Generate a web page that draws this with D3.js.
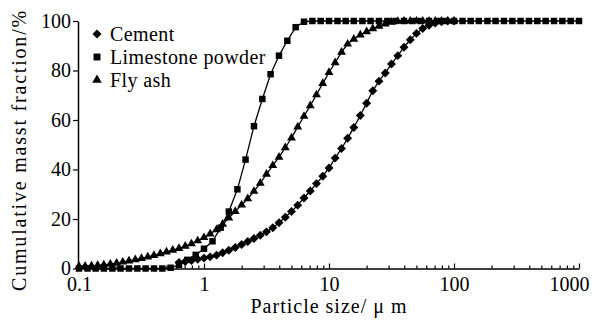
<!DOCTYPE html>
<html>
<head>
<meta charset="utf-8">
<script src="https://cdn.jsdelivr.net/npm/d3@7"></script>
<style>
    body { margin: 0; background: #fff; }
    svg { display: block; }
    text { font-family: "Liberation Serif", "Times New Roman", serif; fill: #000; }
</style>
</head>
<body>
<svg id="chart"></svg>
<script>
// ticks and names
const xTicks = [0.1, 1, 10, 100, 1000];
const xTickLabels = ['0.1', '1', '10', '100', '1000'];
const yTicks = [0, 20, 40, 60, 80, 100];
const seriesNames = ['Cement', 'Limestone powder', 'Fly ash'];

// cement, particle size (um) / cumulative mass fraction (%)
const cementSize = [
    0.631, 0.708, 0.794, 0.891,
    1, 1.12, 1.26, 1.41, 1.58, 1.78, 2, 2.24, 2.51, 2.82, 3.16, 3.55, 3.98, 4.47, 5.01, 5.62, 6.31, 7.08, 7.94, 8.91,
    10, 11.2, 12.6, 14.1, 15.8, 17.8, 20, 22.4, 25.1, 28.2, 31.6, 35.5, 39.8, 44.7, 50.1, 56.2, 63.1, 70.8, 79.4, 89.1,
    100
];
const cementPass = [
    2.4, 2.8, 3.2, 3.7,
    4.2, 4.7, 5.4, 6.4, 7.4, 8.5, 9.7, 10.9, 12.1, 13.4, 14.8, 16.5, 18.5, 20.7, 23.0, 25.6, 28.5, 31.3, 34.3, 37.3,
    40.6, 44.6, 48.5, 52.6, 57.0, 61.8, 66.8, 71.8, 75.7, 79.0, 82.6, 86.0, 89.4, 92.4, 95.0, 97.0, 98.3, 99.2, 99.7, 100,
    100
];

// fly ash
const flySize = [
    0.1, 0.112, 0.126, 0.141, 0.158, 0.178, 0.2, 0.224, 0.251, 0.282, 0.316, 0.355, 0.398, 0.447, 0.501, 0.562, 0.631, 0.708, 0.794, 0.891,
    1, 1.12, 1.26, 1.41, 1.58, 1.78, 2, 2.24, 2.51, 2.82, 3.16, 3.55, 3.98, 4.47, 5.01, 5.62, 6.31, 7.08, 7.94, 8.91,
    10, 11.2, 12.6, 14.1, 15.8, 17.8, 20, 22.4, 25.1, 28.2, 31.6, 35.5, 39.8, 44.7, 50.1, 56.2, 63.1, 70.8, 79.4, 89.1,
    100
];
const flyPass = [
    0.9, 1.0, 1.1, 1.3, 1.5, 1.8, 2.2, 2.6, 3.1, 3.6, 4.1, 4.7, 5.3, 6.0, 6.7, 7.4, 8.1, 9.0, 10.0, 11.2,
    12.5, 14.0, 15.7, 17.9, 20.4, 23.1, 25.7, 28.2, 31.2, 34.5, 38.1, 41.6, 45.0, 48.8, 52.8, 57.2, 61.5, 65.8, 70.2, 74.8,
    79.2, 83.2, 87.4, 90.7, 92.7, 94.4, 95.7, 96.9, 97.9, 98.8, 99.5, 99.9, 100, 100, 100, 100, 100, 100, 100, 100,
    100
];

// limestone powder
const limeSize = [
    0.1, 0.117, 0.136, 0.158, 0.185, 0.215, 0.251, 0.293, 0.341, 0.398, 0.464, 0.541, 0.631, 0.736, 0.858,
    1, 1.17, 1.36, 1.58, 1.85, 2.15, 2.51, 2.93, 3.41, 3.98, 4.64, 5.41, 6.31, 7.36, 8.58,
    10, 11.7, 13.6, 15.8, 18.5, 21.5, 25.1, 29.3, 34.1, 39.8, 46.4, 54.1, 63.1, 73.6, 85.8,
    100, 117, 136, 158, 185, 215, 251, 293, 341, 398, 464, 541, 631, 736, 858,
    1000
];
const limePass = [
    0, 0, 0, 0, 0, 0, 0, 0, 0, 0, 0, 0.3, 1.5, 3.5, 5.5,
    8.0, 11.0, 16.5, 23.0, 32.0, 44.0, 57.5, 68.5, 78.5, 86.0, 92.0, 97.5, 99.7, 100, 100,
    100, 100, 100, 100, 100, 100, 100, 100, 100, 100, 100, 100, 100, 100, 100,
    100, 100, 100, 100, 100, 100, 100, 100, 100, 100, 100, 100, 100, 100, 100,
    100
];

const width = 594,
    height = 323,
    x = d3.scaleLog().domain([0.1, 1000]).range([79, 579]),
    y = d3.scaleLinear().domain([0, 100]).range([268.5, 21]),

    diamond = d3.symbol().type(d3.symbolSquare).size(40),
    square = d3.symbol().type(d3.symbolSquare).size(42),
    triangle = d3.symbol().type(d3.symbolTriangle).size(34),

    svg = d3.select('#chart')
    .attr('width', width)
    .attr('height', height);

// y axis
const yAxis = svg.append('g')
    .attr('transform', 'translate(78,0)')
    .call(d3.axisLeft(y).tickValues(yTicks).tickSize(5).tickSizeOuter(0).tickPadding(2));

// x axis, major + minor ticks pointing in
const xAxis = svg.append('g')
    .attr('transform', `translate(0,${y(0)})`)
    .call(d3.axisBottom(x).tickValues(xTicks).tickSize(-5).tickSizeOuter(0).tickPadding(8.5)
        .tickFormat((d, i) => xTickLabels[i]));

svg.append('g')
    .attr('transform', `translate(0,${y(0)})`)
    .call(d3.axisBottom(x).tickValues(x.ticks().filter(t => !xTicks.includes(t))).tickSize(-3).tickFormat(''))
    .call(g => g.select('.domain').remove());

svg.selectAll('g').attr('font-family', null);
svg.selectAll('.domain')
    .attr('stroke', '#000')
    .attr('stroke-width', 1.5);
svg.selectAll('.tick line')
    .attr('stroke', '#000')
    .attr('stroke-width', 1.2);
svg.selectAll('.tick text')
    .style('font-family', '"Liberation Serif", "Times New Roman", serif')
    .style('font-size', '20px');

// keep the 1000 label inside the picture
xAxis.selectAll('.tick text')
    .filter(d => d === 1000)
    .attr('dx', -10);

// series, drawn cement -> fly ash -> limestone
const line = d3.line()
    .x(d => x(d[0]))
    .y(d => y(d[1]));

const series = [
    { data: d3.zip(cementSize, cementPass), symbol: diamond, rot: 45 },
    { data: d3.zip(flySize, flyPass), symbol: triangle, rot: 0 },
    { data: d3.zip(limeSize, limePass), symbol: square, rot: 0 }
];

series.forEach(s => {
    const g = svg.append('g');

    g.append('path')
        .datum(s.data)
        .attr('fill', 'none')
        .attr('stroke', '#000')
        .attr('stroke-width', 1.3)
        .attr('d', line);

    g.selectAll('path.mark')
        .data(s.data)
        .enter().append('path')
        .attr('class', 'mark')
        .attr('fill', '#000')
        .attr('transform', d => `translate(${x(d[0])},${y(d[1])})rotate(${s.rot})`)
        .attr('d', s.symbol);
});

// legend
const legendMarks = [
    { symbol: d3.symbol().type(d3.symbolSquare).size(40), rot: 45 },
    { symbol: d3.symbol().type(d3.symbolSquare).size(48), rot: 0 },
    { symbol: d3.symbol().type(d3.symbolTriangle).size(40), rot: 0 }
];

const legend = svg.append('g')
    .attr('transform', 'translate(97,34)');

seriesNames.forEach((name, i) => {
    legend.append('path')
        .attr('transform', `translate(0,${i * 23})rotate(${legendMarks[i].rot})`)
        .attr('d', legendMarks[i].symbol);
    legend.append('text')
        .attr('x', 13)
        .attr('y', i * 23)
        .attr('dy', '0.35em')
        .style('font-size', '20px')
        .style('letter-spacing', '0.4px')
        .text(name);
});

// axis titles
svg.append('text')
    .attr('transform', 'translate(26,150)rotate(-90)')
    .attr('text-anchor', 'middle')
    .style('font-size', '20px')
    .style('letter-spacing', '1.8px')
    .text('Cumulative masst fraction/%');

svg.append('text')
    .attr('x', 329)
    .attr('y', 313)
    .attr('text-anchor', 'middle')
    .style('font-size', '20px')
    .style('letter-spacing', '1px')
    .text('Particle size/ μ m');
</script>
</body>
</html>
